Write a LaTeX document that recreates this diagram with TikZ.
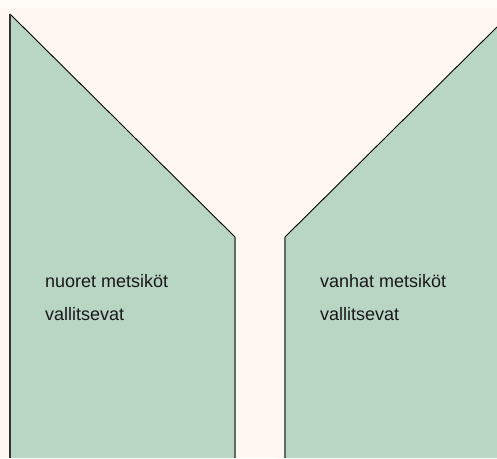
\documentclass[tikz,border=0pt]{standalone}
\usepackage{fontspec}
\setmainfont{Liberation Sans}
\definecolor{bgcream}{HTML}{FEF8F0}
\definecolor{topband}{HTML}{FFFBF7}
\definecolor{forest}{HTML}{B9D5C4}
\definecolor{edgegray}{HTML}{5E6A64}
\tikzset{
  region/.style={fill=forest, draw=none},
  diag/.style={draw=black, line width=0.9pt},
  vedge/.style={draw=edgegray, line width=1.8pt},
  ledge/.style={draw=black!80, line width=1.2pt},
  label/.style={anchor=base west, inner sep=0pt, font=\fontsize{18}{20}\selectfont, text=black!90}
}
\begin{document}
\begin{tikzpicture}[x=1pt,y=-1pt]
\useasboundingbox (0,0) rectangle (497,458);
\fill[bgcream] (0,0) rectangle (497,458);
\fill[topband] (0,0) rectangle (497,8);
% corner coordinates
\coordinate (lt) at (10,14);
\coordinate (lm) at (235,237);
\coordinate (lb) at (235,458);
\coordinate (lbb) at (10,458);
\coordinate (rm) at (285,237);
\coordinate (rt) at (497,27);
\coordinate (rb) at (285,458);
\coordinate (rbb) at (497,458);
% regions
\path[region] (lt) -- (lm) -- (lb) -- (lbb) -- cycle;
\path[region] (rm) -- (rt) -- (rbb) -- (rb) -- cycle;
% edges
\draw[diag] (lt) -- (lm);
\draw[diag] (rm) -- (rt);
\draw[vedge] (lm) -- (lb);
\draw[vedge] (rm) -- (rb);
\draw[ledge] (lt) -- (lbb);
% labels
\node[label] (l1) at (45,287) {nuoret metsiköt};
\node[label] (l2) at (45,320) {vallitsevat};
\node[label] (r1) at (320,287) {vanhat metsiköt};
\node[label] (r2) at (320,320) {vallitsevat};
\end{tikzpicture}
\end{document}
